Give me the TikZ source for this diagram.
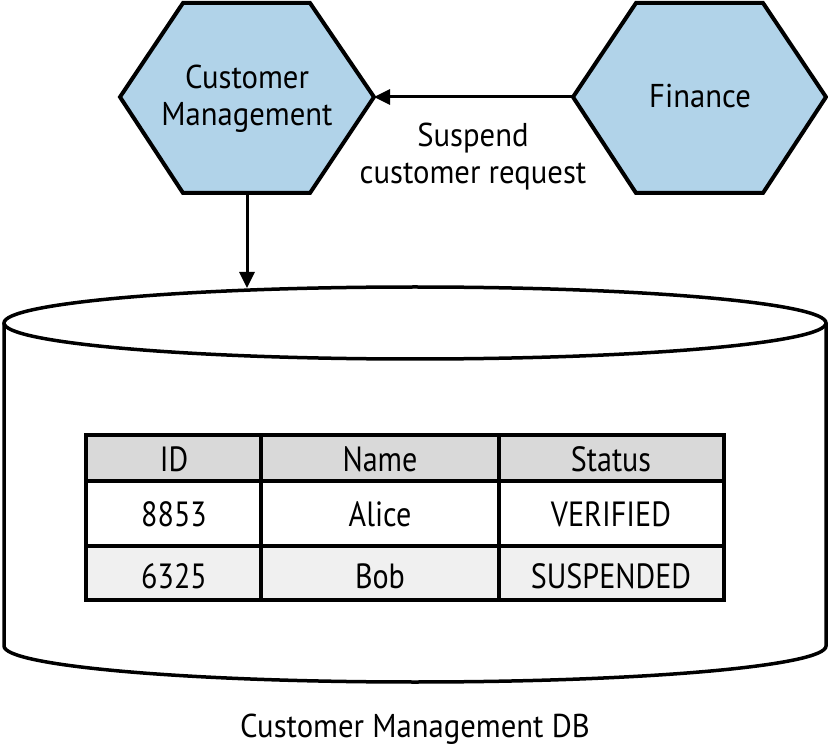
\documentclass[tikz,border=0pt]{standalone}
\usepackage{fontspec}
\setmainfont{PT Sans}
\usetikzlibrary{arrows.meta}
\definecolor{hexblue}{HTML}{B1D3E9}
\definecolor{headgray}{HTML}{D9D9D9}
\definecolor{rowgray}{HTML}{F0F0F0}
\begin{document}
\begin{tikzpicture}[x=1pt,y=-1pt]

    \tikzset{
      hexa/.style={
        draw,
        fill=hexblue,
        line width=4,
        line join=miter,
      },
      label/.style={
        anchor=center,
        align=center,
        xscale=0.93,
        font=\fontsize{33}{37}\selectfont,
      },
      cell/.style={
        anchor=center,
        xscale=0.86,
        font=\fontsize{35}{40}\selectfont,
      },
      flow/.style={
        line width=3,
        -{Triangle[length=16pt,width=15pt]},
      },
    }
    \useasboundingbox (0,0) rectangle (828,751);

	% services
	\draw[hexa] (120,97)--(183,3)--(310,3)--(374,97)--(310,193)--(183,193)--cycle;
	\draw[hexa] (573,97)--(636,3)--(763,3)--(826,97)--(763,193)--(636,193)--cycle;
	\coordinate (cmE) at (374,97);
	\coordinate (cmS) at (247,193);
	\coordinate (finW) at (573,97);
	\coordinate (dbN) at (247,288);
	\draw (247,99) node[label] (cm) {Customer\\Management};
	\draw (700,96) node[label] (fin) {Finance};

	% database
	\draw[color={black},line width=3.5,fill=white] (4,323)--(4,646) arc[start angle=180,end angle=0,x radius=411,y radius=36]--(826,323);
	\draw[color={black},line width=3.5] (415,323) ellipse[x radius=411,y radius=36];

	% table
	\fill[headgray] (86,435) rectangle (724,481);
	\fill[rowgray] (86,546) rectangle (724,600);
	\draw[color={black},line width=3.5] (86,435) rectangle (724,600);
	\draw[color={black},line width=3.5] (86,481)--(724,481);
	\draw[color={black},line width=3.5] (86,546)--(724,546);
	\draw[color={black},line width=3.5] (261,435)--(261,600);
	\draw[color={black},line width=3.5] (499,435)--(499,600);
	\draw (174,459) node[cell] (hId) {ID};
	\draw (380,459) node[cell] (hName) {Name};
	\draw (611,459) node[cell] (hStatus) {Status};
	\draw (174,514) node[cell] (aId) {8853};
	\draw (380,514) node[cell] (aName) {Alice};
	\draw (611,514) node[cell] (aStatus) {VERIFIED};
	\draw (174,576) node[cell] (bId) {6325};
	\draw (380,576) node[cell] (bName) {Bob};
	\draw (611,576) node[cell] (bStatus) {SUSPENDED};
	\draw (415,729) node[label] (db) {Customer Management DB};

	% calls
	\draw[flow] (finW)--(cmE);
	\draw[flow] (cmS)--(dbN);
	\draw (473,157) node[label] (req) {Suspend\\customer request};

\end{tikzpicture}
\end{document}
